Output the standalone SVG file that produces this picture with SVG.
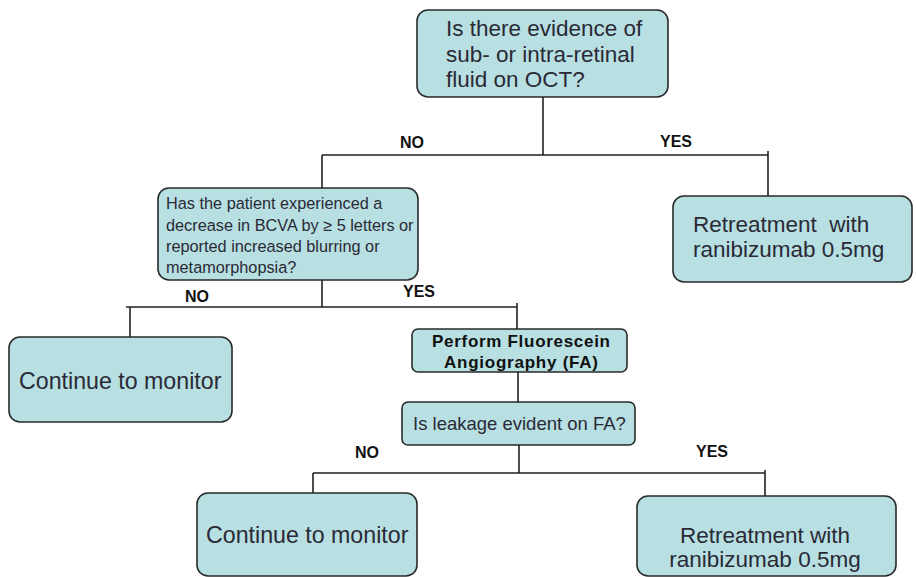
<svg xmlns="http://www.w3.org/2000/svg" width="916" height="577" viewBox="0 0 916 577">
<style>
.box{fill:#b8dfe2;stroke:#2a2a2a;stroke-width:1.6}
.t{font-family:"Liberation Sans",Arial,sans-serif;fill:#2a2a36}
.big{font-size:22.5px}
.mon{font-size:23.2px}
.mid{font-size:16.3px}
.lab{font-family:"Liberation Sans",Arial,sans-serif;font-weight:bold;font-size:16px;fill:#111}
.fa{font-family:"Liberation Sans",Arial,sans-serif;font-weight:bold;font-size:17px;fill:#111}
.ln{fill:none;stroke:#222;stroke-width:1.6}
</style>
<rect width="916" height="577" fill="#ffffff"/>
<g id="connectors">
<path class="ln" d="M543 97V155M322 155H768M768 151V196M322 155V188"/>
<path class="ln" d="M322 280V307M126 307H517M517 303V329M130 307V337"/>
<path class="ln" d="M518 372V402"/>
<path class="ln" d="M519 445V473M313 473H765M765 470V496M313 473V493"/>
</g>
<g id="labels">
<text class="lab" x="400" y="148">NO</text>
<text class="lab" x="660" y="147">YES</text>
<text class="lab" x="185" y="302">NO</text>
<text class="lab" x="403" y="297">YES</text>
<text class="lab" x="355" y="458">NO</text>
<text class="lab" x="696" y="457">YES</text>
</g>
<g id="node-oct">
<rect class="box" x="417" y="10" width="251" height="87" rx="11"/>
<text class="t big" x="446" y="36">Is there evidence of</text>
<text class="t big" x="446" y="62">sub- or intra-retinal</text>
<text class="t big" x="446" y="87">fluid on OCT?</text>
</g>
<g id="node-bcva">
<rect class="box" x="158" y="188" width="260" height="92" rx="11"/>
<text class="t mid" x="166" y="209">Has the patient experienced a</text>
<text class="t mid" x="166" y="231">decrease in BCVA by ≥ 5 letters or</text>
<text class="t mid" x="166" y="252">reported increased blurring or</text>
<text class="t mid" x="166" y="273">metamorphopsia?</text>
</g>
<g id="node-retreat1">
<rect class="box" x="673" y="196" width="239" height="86" rx="11"/>
<text class="t big" x="693" y="232" xml:space="preserve">Retreatment  with</text>
<text class="t big" x="693" y="257">ranibizumab 0.5mg</text>
</g>
<g id="node-monitor1">
<rect class="box" x="9" y="337" width="223" height="85" rx="11"/>
<text class="t mon" x="19" y="389">Continue to monitor</text>
</g>
<g id="node-fa">
<rect class="box" x="412" y="329" width="215" height="43" rx="6"/>
<text class="fa" x="521" y="347" text-anchor="middle" textLength="178" lengthAdjust="spacing">Perform Fluorescein</text>
<text class="fa" x="521" y="368" text-anchor="middle" textLength="154" lengthAdjust="spacing">Angiography (FA)</text>
</g>
<g id="node-leak">
<rect class="box" x="402" y="402" width="233" height="43" rx="6"/>
<text class="t" x="413" y="430" font-size="18.5">Is leakage evident on FA?</text>
</g>
<g id="node-monitor2">
<rect class="box" x="197" y="493" width="220" height="83" rx="11"/>
<text class="t mon" x="206" y="543">Continue to monitor</text>
</g>
<g id="node-retreat2">
<rect class="box" x="637" y="496" width="259" height="80" rx="11"/>
<text class="t big" x="765" y="543" text-anchor="middle">Retreatment with</text>
<text class="t big" x="765" y="567" text-anchor="middle">ranibizumab 0.5mg</text>
</g>
</svg>
